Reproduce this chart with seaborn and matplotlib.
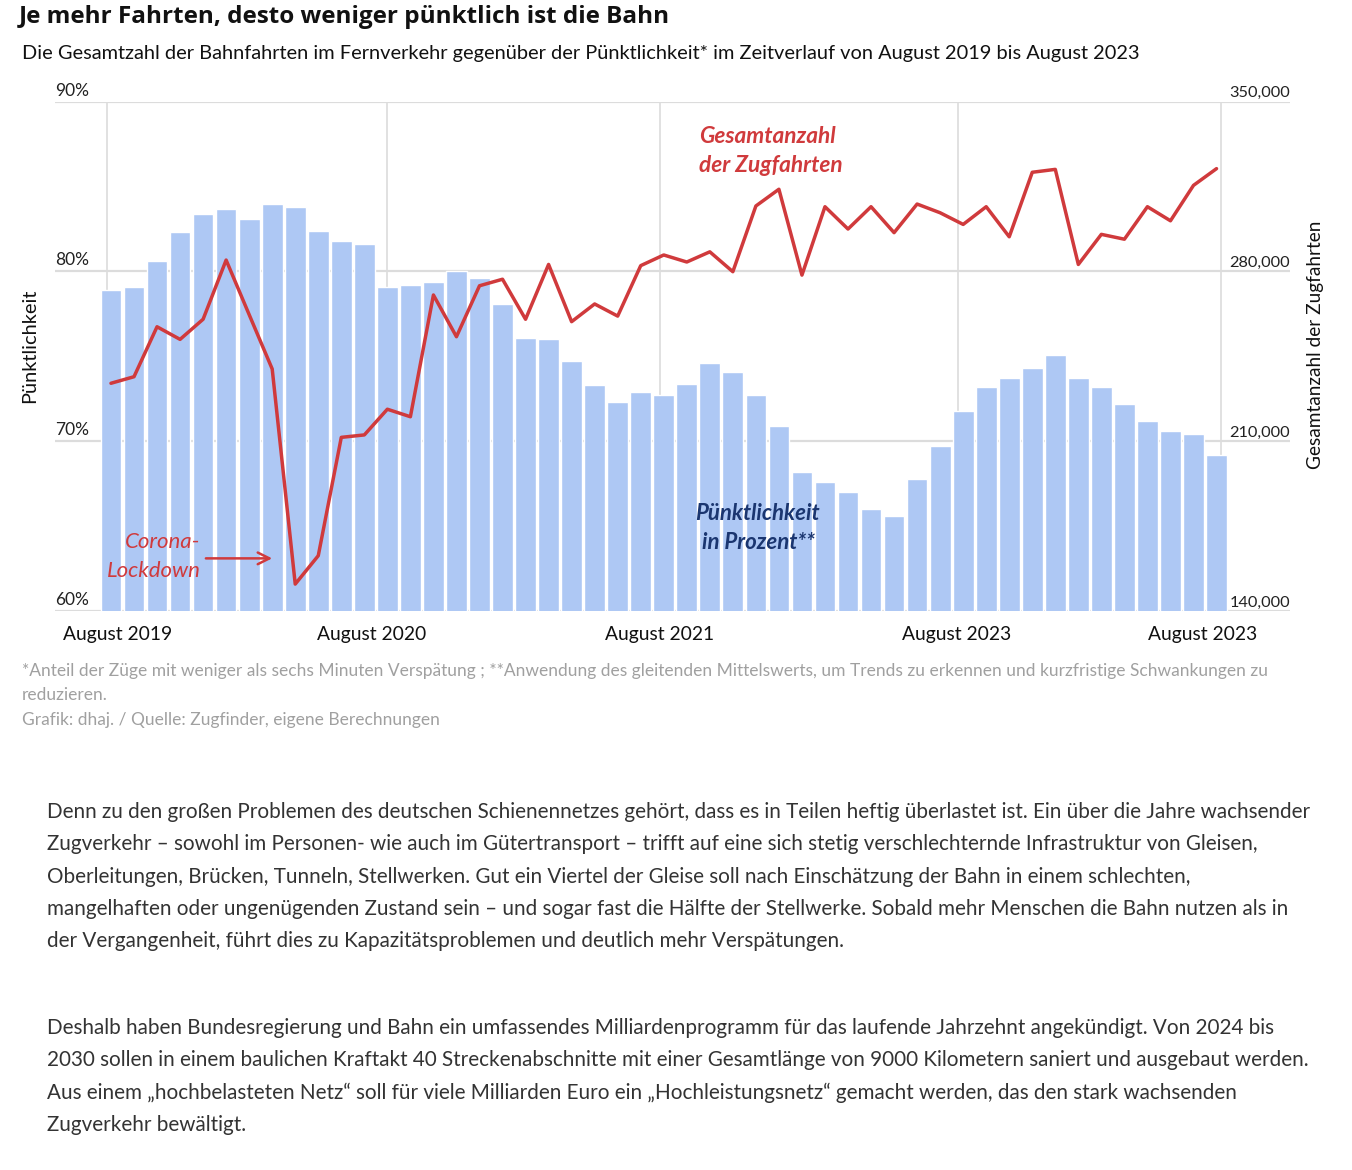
import numpy as np
import pandas as pd
import matplotlib
matplotlib.use("Agg")
import matplotlib.pyplot as plt
import seaborn as sns

# ---------------- data ----------------
months = pd.date_range("2019-08-01", "2023-08-01", freq="MS").strftime("%Y-%m").tolist()

punctuality = [78.9, 79.1, 80.6, 82.3, 83.4, 83.7, 83.1, 84.0, 83.8, 82.4,
               81.8, 81.6, 79.1, 79.2, 79.4, 80.0, 79.6, 78.1, 76.1, 76.0,
               74.7, 73.3, 72.3, 72.9, 72.7, 73.4, 74.6, 74.1, 72.7, 70.9,
               68.2, 67.6, 67.0, 66.0, 65.6, 67.8, 69.7, 71.8, 73.2, 73.7,
               74.3, 75.1, 73.7, 73.2, 72.2, 71.2, 70.6, 70.4, 69.2]

trips = [233900, 236600, 257200, 252000, 260300, 284700, 262200, 239800, 151100, 162800,
         211600, 212600, 223200, 220100, 270300, 253100, 274100, 276800, 260300, 282900,
         259300, 266600, 261600, 282400, 286800, 283900, 288100, 279900, 307000, 313900,
         278500, 306700, 297500, 306700, 296000, 307800, 304200, 299400, 306700, 294300,
         320900, 322100, 282900, 295300, 293300, 306700, 300900, 315500, 322400]

left_ticks = [60, 70, 80, 90]
left_tick_labels = ["60%", "70%", "80%", "90%"]
right_ticks = [140000, 210000, 280000, 350000]
right_tick_labels = ["140,000", "210,000", "280,000", "350,000"]

xgrid_pos = [-0.17, 11.98, 23.84, 36.78, 48.2]
xlabel_pos = [0.3, 11.3, 23.84, 36.7, 47.4]
xlabel_text = ["August 2019", "August 2020", "August 2021", "August 2023", "August 2023"]

df = pd.DataFrame({"month": months, "punctuality": punctuality, "trips": trips})
df["pos"] = np.arange(len(df))

# ---------------- style ----------------
sns.set_theme(style="white")
FONT = ["Lato", "DejaVu Sans"]
plt.rcParams["font.family"] = FONT

BAR = "#aec8f4"
RED = "#d03a3c"
BLUE = "#1b3670"
GRID = "#dcdcdc"
GREY = "#a0a0a0"
TEXT = "#333333"

W, H = 1352, 1170
fig = plt.figure(figsize=(W / 100, H / 100), dpi=100)

def fx(px):
    return px / W

def fy(py):
    return 1 - py / H

ax = fig.add_axes([fx(55), fy(611), fx(1290) - fx(55), fy(101.7) - fy(611)])
ax.set_zorder(1)

sns.barplot(data=df, x="pos", y="punctuality", native_scale=True, color=BAR,
            width=0.9, saturation=1, ax=ax, zorder=2)
ax.set_xlim(-2.43, 51.19)
ax.set_ylim(60, 90)

for v in left_ticks:
    ax.axhline(v, color=GRID, lw=1.6, zorder=0)
for xp in xgrid_pos:
    ax.plot([xp, xp], [60, 90], color=GRID, lw=1.2, zorder=0)

for sp in ax.spines.values():
    sp.set_visible(False)
ax.set_xticks([])
ax.set_yticks([])
ax.set_xlabel("")
ax.set_ylabel("")

ax2 = ax.twinx()
ax2.set_zorder(2)
sns.lineplot(data=df, x="pos", y="trips", color=RED, lw=2.5, ax=ax2)
ax2.set_ylim(140000, 350000)
ax2.set_xlim(-2.43, 51.19)
for sp in ax2.spines.values():
    sp.set_visible(False)
ax2.set_yticks([])
ax2.set_xlabel("")
ax2.set_ylabel("")

# tick labels (left, above gridlines)
tl = ax.get_yaxis_transform()
for v, lab in zip(left_ticks, left_tick_labels):
    ax.text(0.0, v + 0.18, lab, transform=tl, ha="left", va="bottom",
            fontsize=12.5, color="#222222")
tr = ax2.get_yaxis_transform()
for v, lab in zip(right_ticks, right_tick_labels):
    ax2.text(1.0, v + 600, lab, transform=tr, ha="right", va="bottom",
             fontsize=11.8, color="#222222")

# x labels
for xp, lab in zip(xlabel_pos, xlabel_text):
    ax.text(xp, 59.1, lab, transform=ax.transData, ha="center", va="top",
            fontsize=13.9, color="#111111")

# axis titles
fig.text(fx(30), fy(346), "Pünktlichkeit", rotation=90, ha="center", va="center",
         fontsize=14.4, color="#111111")
fig.text(fx(1316), fy(345), "Gesamtanzahl der Zugfahrten", rotation=90, ha="center",
         va="center", fontsize=13.7, color="#111111")

# annotations
ax.text(25.53, 87.97, "Gesamtanzahl", ha="left", va="center", fontsize=16.3,
        fontweight="bold", fontstyle="italic", color=RED, zorder=5)
ax.text(25.53, 86.27, "der Zugfahrten", ha="left", va="center", fontsize=16.3,
        fontweight="bold", fontstyle="italic", color=RED, zorder=5)
ax.text(28.09, 65.77, "Pünktlichkeit", ha="center", va="center", fontsize=16,
        fontweight="bold", fontstyle="italic", color=BLUE, zorder=5)
ax.text(28.09, 64.06, "in Prozent**", ha="center", va="center", fontsize=16,
        fontweight="bold", fontstyle="italic", color=BLUE, zorder=5)
ax.text(3.86, 64.06, "Corona-", ha="right", va="center", fontsize=16,
        fontstyle="italic", color=RED, zorder=5)
ax.text(3.9, 62.36, "Lockdown", ha="right", va="center", fontsize=16,
        fontstyle="italic", color=RED, zorder=5)
ax.annotate("", xy=(7.12, 63.1), xytext=(4.0, 63.1),
            arrowprops=dict(arrowstyle="->,head_length=0.7,head_width=0.35",
                            color=RED, lw=1.8), zorder=5)

# title / subtitle
fig.text(fx(19), fy(17), "Je mehr Fahrten, desto weniger pünktlich ist die Bahn",
         ha="left", va="center", fontsize=17.5, fontweight="bold", color="#111111",
         family=["Open Sans", "DejaVu Sans"])
fig.text(fx(22), fy(53), "Die Gesamtzahl der Bahnfahrten im Fernverkehr gegenüber der Pünktlichkeit* im Zeitverlauf von August 2019 bis August 2023",
         ha="left", va="center", fontsize=14.4, color="#111111")

# footnotes
foot = ["*Anteil der Züge mit weniger als sechs Minuten Verspätung ; **Anwendung des gleitenden Mittelswerts, um Trends zu erkennen und kurzfristige Schwankungen zu",
        "reduzieren.",
        "Grafik: dhaj. / Quelle: Zugfinder, eigene Berechnungen"]
for t, y in zip(foot, [671, 695, 720]):
    fig.text(fx(22), fy(y), t, ha="left", va="center", fontsize=12.55, color=GREY)

# body text
para1 = ["Denn zu den großen Problemen des deutschen Schienennetzes gehört, dass es in Teilen heftig überlastet ist. Ein über die Jahre wachsender",
         "Zugverkehr – sowohl im Personen- wie auch im Gütertransport – trifft auf eine sich stetig verschlechternde Infrastruktur von Gleisen,",
         "Oberleitungen, Brücken, Tunneln, Stellwerken. Gut ein Viertel der Gleise soll nach Einschätzung der Bahn in einem schlechten,",
         "mangelhaften oder ungenügenden Zustand sein – und sogar fast die Hälfte der Stellwerke. Sobald mehr Menschen die Bahn nutzen als in",
         "der Vergangenheit, führt dies zu Kapazitätsproblemen und deutlich mehr Verspätungen."]
para2 = ["Deshalb haben Bundesregierung und Bahn ein umfassendes Milliardenprogramm für das laufende Jahrzehnt angekündigt. Von 2024 bis",
         "2030 sollen in einem baulichen Kraftakt 40 Streckenabschnitte mit einer Gesamtlänge von 9000 Kilometern saniert und ausgebaut werden.",
         "Aus einem „hochbelasteten Netz“ soll für viele Milliarden Euro ein „Hochleistungsnetz“ gemacht werden, das den stark wachsenden",
         "Zugverkehr bewältigt."]
for t, y in zip(para1, [812, 844, 877, 909, 941]):
    fig.text(fx(47), fy(y), t, ha="left", va="center", fontsize=14.85, color=TEXT)
for t, y in zip(para2, [1028, 1060, 1093, 1125]):
    fig.text(fx(47), fy(y), t, ha="left", va="center", fontsize=14.85, color=TEXT)

fig.savefig("out.png", dpi=100, facecolor="white")
